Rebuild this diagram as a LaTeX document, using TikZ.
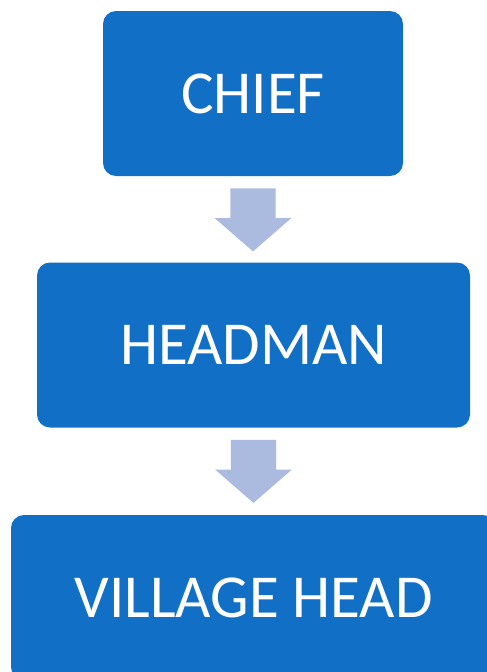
\documentclass[tikz,border=0pt]{standalone}
\usepackage{fontspec}
\setmainfont{Carlito}
\usetikzlibrary{positioning, shapes, calc}
\definecolor{boxblue}{RGB}{17,112,198}
\definecolor{flowblue}{RGB}{171,186,223}
\tikzset{
  rank/.style={rectangle, rounded corners=13pt, fill=boxblue, text=white,
    minimum height=165pt, inner sep=0pt, font=\fontsize{61}{68}\selectfont},
  flow/.style={single arrow, fill=flowblue, rotate=-90, anchor=tail,
    inner xsep=0pt, inner ysep=22.5pt, minimum height=63pt,
    single arrow head extend=15.5pt, single arrow tip angle=98,
    single arrow head indent=0pt}
}
\begin{document}
\begin{tikzpicture}[x=1pt,y=-1pt]
  \clip (0,0) rectangle (487,672);
  \node[rank, minimum width=300pt] (chief) at (253,93.5) {CHIEF};
  \node[rank, minimum width=433pt] (headman) at (253.5,345) {HEADMAN};
  \node[rank, minimum width=485pt] (village) at (253.5,597.5) {VILLAGE HEAD};
  \node[flow] (up) at ($(chief.south)+(0,12)$) {};
  \node[flow] (down) at ($(headman.south)+(0,12)$) {};
\end{tikzpicture}
\end{document}
